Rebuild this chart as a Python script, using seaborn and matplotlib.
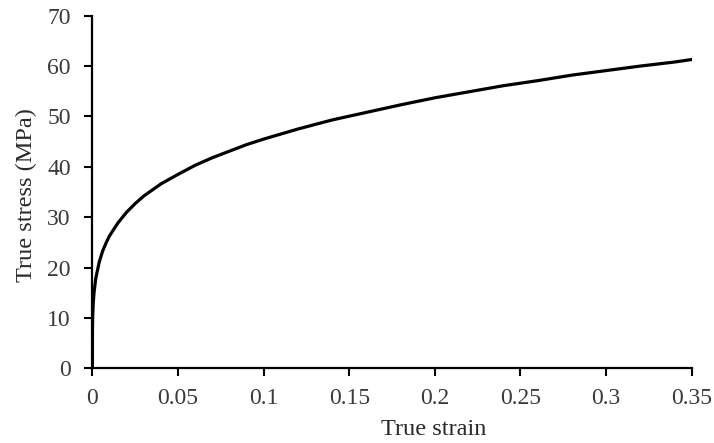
import matplotlib
matplotlib.use("Agg")
import matplotlib.pyplot as plt
import seaborn as sns
import pandas as pd

strain = [0.0, 0.00005, 0.0002, 0.0005, 0.001, 0.002, 0.004, 0.006, 0.008, 0.01,
          0.015, 0.02, 0.025, 0.03, 0.04, 0.05, 0.06, 0.07, 0.08, 0.09, 0.10,
          0.12, 0.14, 0.16, 0.18, 0.20, 0.22, 0.24, 0.26, 0.28, 0.30, 0.32, 0.34, 0.35]
stress = [0.0, 7.5, 10.4, 12.9, 15.2, 17.9, 21.1, 23.3, 24.9, 26.3,
          28.9, 31.0, 32.7, 34.2, 36.6, 38.5, 40.3, 41.8, 43.1, 44.4, 45.5,
          47.5, 49.3, 50.8, 52.3, 53.7, 54.9, 56.1, 57.1, 58.2, 59.1, 60.0, 60.8, 61.3]
x_ticks = [0, 0.05, 0.1, 0.15, 0.2, 0.25, 0.3, 0.35]
x_labels = ["0", "0.05", "0.1", "0.15", "0.2", "0.25", "0.3", "0.35"]
y_ticks = [0, 10, 20, 30, 40, 50, 60, 70]

sns.set_theme(style="ticks")
plt.rcParams["font.family"] = ["Liberation Serif", "DejaVu Serif"]

df = pd.DataFrame({"strain": strain, "stress": stress})

fig = plt.figure(figsize=(7.14, 4.43), dpi=100)
ax = fig.add_axes([0.1294, 0.1686, 0.9688 - 0.1294, 0.9646 - 0.1686])
sns.lineplot(data=df, x="strain", y="stress", ax=ax, color="black", linewidth=2.3, sort=False)

ax.set_xlim(0, 0.35)
ax.set_ylim(0, 70)
ax.set_xticks(x_ticks)
ax.set_xticklabels(x_labels)
ax.set_yticks(y_ticks)
for s in ["top", "right"]:
    ax.spines[s].set_visible(False)
for s in ["left", "bottom"]:
    ax.spines[s].set_color("black")
    ax.spines[s].set_linewidth(1.6)
ax.tick_params(axis="both", direction="out", length=5.5, width=1.5, color="black",
               labelsize=17, labelcolor="#3a3a3a")
ax.tick_params(axis="x", pad=9)
ax.tick_params(axis="y", pad=10)
ax.set_xlabel("True strain", fontsize=17.5, color="#2a2a2a")
ax.set_ylabel("True stress (MPa)", fontsize=17.5, color="#2a2a2a")
ax.xaxis.set_label_coords(0.57, -0.145)
ax.yaxis.set_label_coords(-0.092, 0.49)

fig.savefig("out.png", dpi=100)
